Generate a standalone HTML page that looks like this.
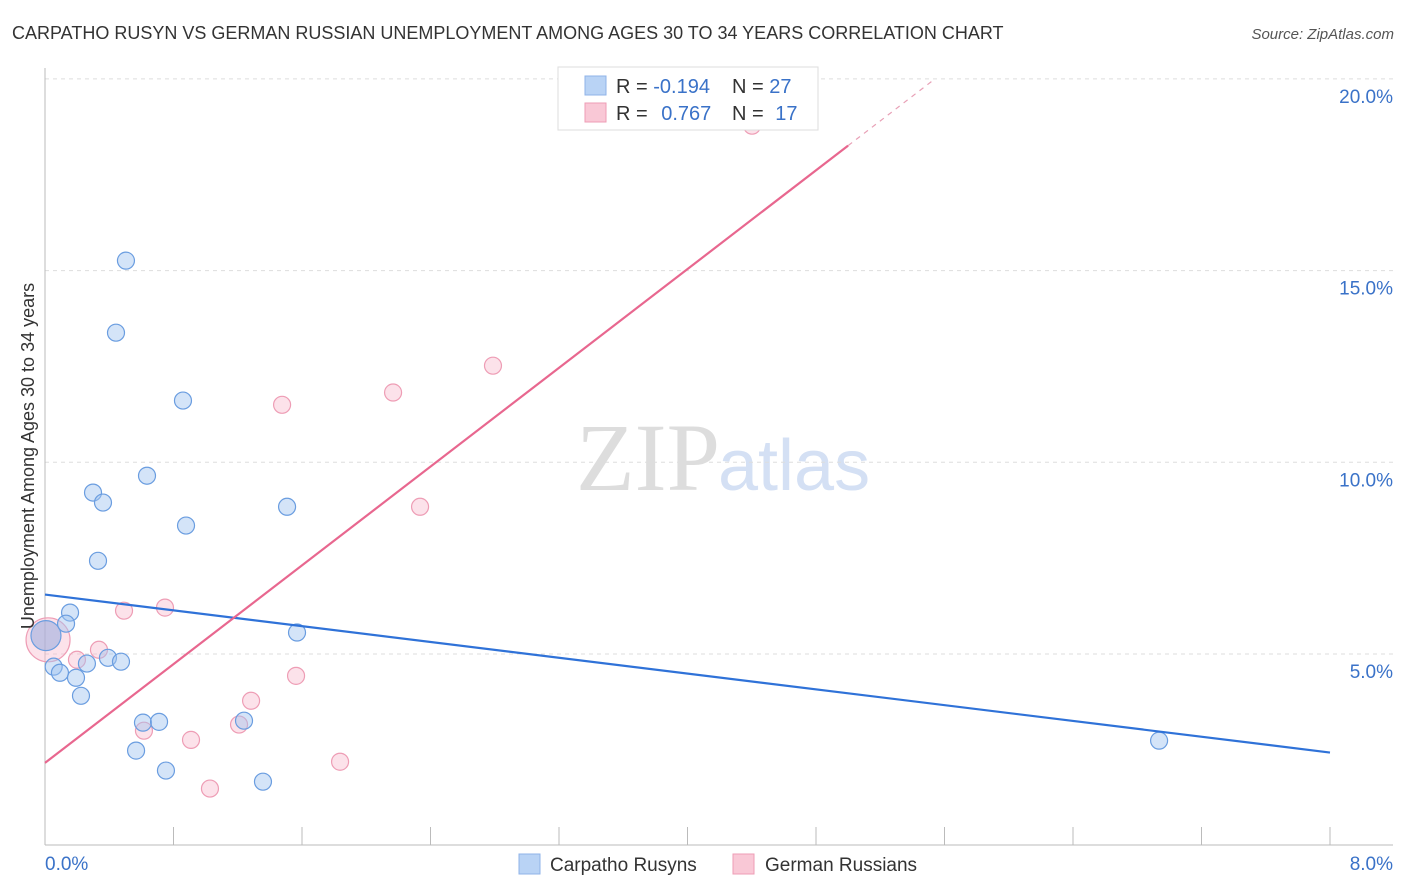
<!DOCTYPE html>
<html><head><meta charset="utf-8">
<style>
body{margin:0;background:#fff;font-family:"Liberation Sans",sans-serif;}
svg{display:block}
</style></head>
<body>
<svg id="chart" width="1406" height="892" xmlns="http://www.w3.org/2000/svg">
  <text x="12" y="39" font-size="18" fill="#333">CARPATHO RUSYN VS GERMAN RUSSIAN UNEMPLOYMENT AMONG AGES 30 TO 34 YEARS CORRELATION CHART</text>
  <text x="1394" y="39" font-size="15" fill="#555" font-style="italic" text-anchor="end">Source: ZipAtlas.com</text>
  <text x="720" y="490" font-size="96" fill="#ddd" text-anchor="end" font-family="Liberation Serif,serif">ZIP</text>
  <text x="718" y="490" font-size="72" fill="#d4e0f4">atlas</text>
  <g id="grid"></g>
  <g id="axes"></g>
  <g id="marks"></g>
  <text x="34" y="456" font-size="18" fill="#333" text-anchor="middle" transform="rotate(-90 34 456)">Unemployment Among Ages 30 to 34 years</text>
  <g>
    <rect x="558" y="67" width="260" height="63" fill="#fff" stroke="#ddd"/>
    <rect x="585" y="76" width="21" height="19" fill="#b9d3f5" stroke="#8fb3e8"/>
    <rect x="585" y="103" width="21" height="19" fill="#f9c8d6" stroke="#ee9db5"/>
    <text x="616" y="93" font-size="20" fill="#333">R = <tspan fill="#3a72c8">-0.194</tspan></text>
    <text x="732" y="93" font-size="20" fill="#333">N = <tspan fill="#3a72c8">27</tspan></text>
    <text x="616" y="120" font-size="20" fill="#333">R = <tspan fill="#3a72c8" dx="8">0.767</tspan></text>
    <text x="732" y="120" font-size="20" fill="#333">N = <tspan fill="#3a72c8" dx="6">17</tspan></text>
  </g>
  <g>
    <rect x="519" y="854" width="21" height="20" fill="#b9d3f5" stroke="#8fb3e8"/>
    <text x="550" y="871" font-size="19" fill="#333">Carpatho Rusyns</text>
    <rect x="733" y="854" width="21" height="20" fill="#f9c8d6" stroke="#ee9db5"/>
    <text x="765" y="871" font-size="19" fill="#333">German Russians</text>
  </g>
</svg>
<script>
const blueX=[0.504,0.442,0.859,0.635,0.299,0.361,0.878,1.507,0.330,0.156,0.131,0.054,0.093,0.261,0.392,0.473,0.193,0.224,0.610,0.710,1.239,1.569,0.567,0.753,1.357,6.936];
const blueY=[15.26,13.38,11.61,9.65,9.21,8.95,8.35,8.84,7.43,6.08,5.79,4.67,4.51,4.75,4.90,4.80,4.38,3.91,3.21,3.23,3.26,5.56,2.48,1.96,1.67,2.74];
const blueBigX=[0.006];const blueBigY=[5.48];
const pinkX=[4.402,2.789,2.167,1.476,2.335,0.492,0.747,0.336,0.199,1.563,1.283,0.616,1.208,0.909,1.837,1.027];
const pinkY=[18.78,12.52,11.82,11.50,8.84,6.13,6.21,5.11,4.85,4.43,3.78,3.00,3.16,2.76,2.19,1.49];
const pinkBigX=[0.019];const pinkBigY=[5.37];
const blueTrend=[6.55,-0.515]; // intercept, slope
const pinkTrend=[2.16,3.22];
const yTicks=[5,10,15,20];
const yTickLabels=["5.0%","10.0%","15.0%","20.0%"];
const xTicks=[0,0.8,1.6,2.4,3.2,4.0,4.8,5.6,6.4,7.2,8.0];

const X=v=>45+v*1285/8;
const Y=v=>845.7-v*191.7/5;
const NS="http://www.w3.org/2000/svg";
function mk(tag,attrs,parent){const e=document.createElementNS(NS,tag);for(const k in attrs)e.setAttribute(k,attrs[k]);parent.appendChild(e);return e;}
const grid=document.getElementById('grid'),axes=document.getElementById('axes'),marks=document.getElementById('marks');
yTicks.forEach((t,i)=>{
  const l=mk('line',{x1:45,x2:1393,y1:Y(t),y2:Y(t),stroke:'#ddd','stroke-dasharray':'4,4'},grid);
  
  
  const tx=mk('text',{x:1393,y:Y(t)+24,'font-size':19,fill:'#3a72c8','text-anchor':'end'},axes);
  tx.textContent=yTickLabels[i];
  
  
});
let a=mk('line',{x1:45,x2:45,y1:68,y2:845,stroke:'#bbb'},axes);


a=mk('line',{x1:45,x2:1393,y1:845,y2:845,stroke:'#bbb'},axes);


xTicks.forEach(t=>{
  const l=mk('line',{x1:X(t),x2:X(t),y1:827,y2:845,stroke:'#bbb'},axes);
  
  
});
let t0=mk('text',{x:45,y:870,'font-size':19,fill:'#3a72c8'},axes);t0.textContent="0.0%";


let t1=mk('text',{x:1393,y:870,'font-size':19,fill:'#3a72c8','text-anchor':'end'},axes);t1.textContent="8.0%";



function dot(x,y,r,fill,stroke,name){
  const c=mk('circle',{cx:X(x),cy:Y(y),r:r,fill:fill,stroke:stroke,'stroke-width':1.2},marks);
  
  
}
const bf='rgba(160,196,240,0.45)',bs='#6a9de0',pf='rgba(248,190,208,0.45)',ps='#ee9db5';
pinkBigX.forEach((x,i)=>dot(x,pinkBigY[i],22,pf,ps,'german-russian-point'));
blueBigX.forEach((x,i)=>dot(x,blueBigY[i],15,'rgba(150,170,220,0.55)',bs,'carpatho-rusyn-point'));
pinkX.forEach((x,i)=>dot(x,pinkY[i],8.5,pf,ps,'german-russian-point'));
blueX.forEach((x,i)=>dot(x,blueY[i],8.5,bf,bs,'carpatho-rusyn-point'));

let bl=mk('line',{x1:X(0),y1:Y(blueTrend[0]),x2:X(8),y2:Y(blueTrend[0]+blueTrend[1]*8),stroke:'#2f72d8','stroke-width':2.2},marks);


let pl=mk('line',{x1:X(0),y1:Y(pinkTrend[0]),x2:X(5.0),y2:Y(pinkTrend[0]+pinkTrend[1]*5.0),stroke:'#e8678f','stroke-width':2.2},marks);


let pd=mk('line',{x1:X(5.0),y1:Y(pinkTrend[0]+pinkTrend[1]*5.0),x2:X(5.52),y2:Y(pinkTrend[0]+pinkTrend[1]*5.52),stroke:'#e8a0b6','stroke-width':1.2,'stroke-dasharray':'5,5'},marks);


</script>
</body></html>
